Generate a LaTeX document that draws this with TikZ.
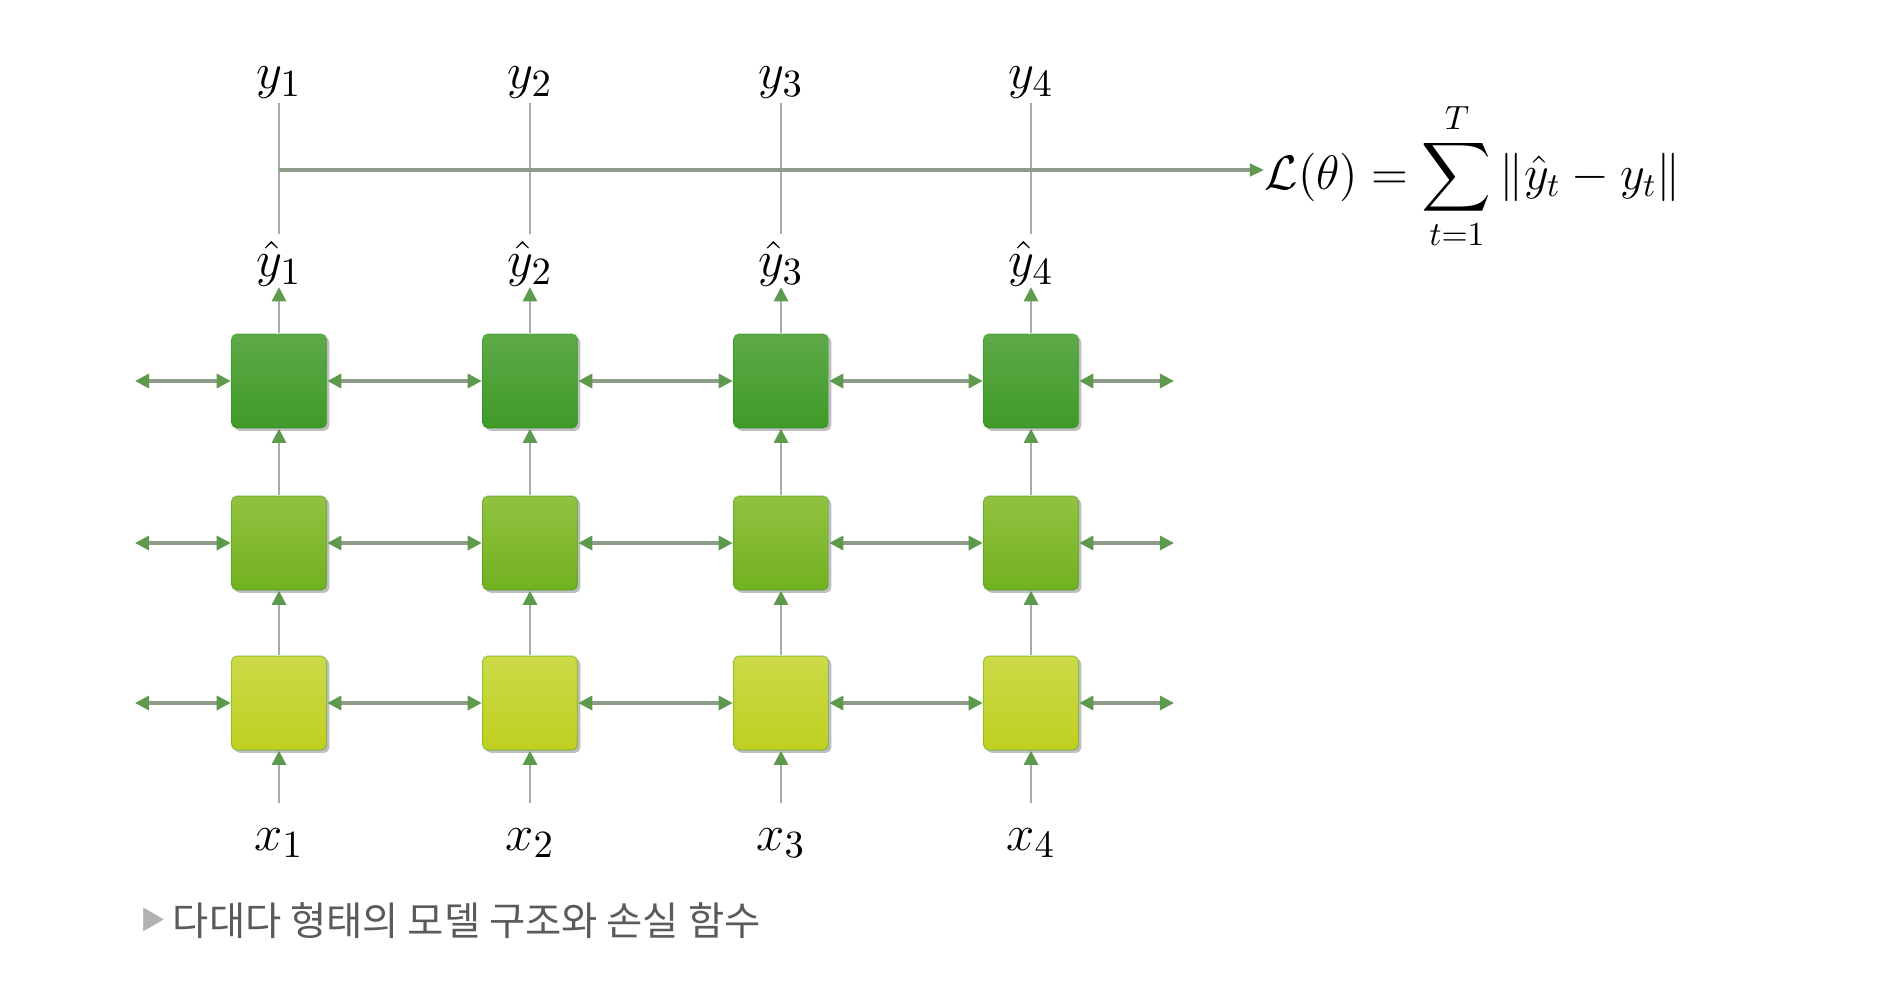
\documentclass[tikz,border=0pt]{standalone}
\usepackage{fontspec}
\usepackage{amsmath}
\newfontfamily\krfont{Noto Sans CJK KR}
\usetikzlibrary{arrows.meta,shadows}
\definecolor{tipgreen}{HTML}{5E9A4E}
\definecolor{hline}{HTML}{8E9C8A}
\definecolor{vline}{HTML}{A8ACA8}
\definecolor{capgray}{HTML}{5A5A5A}
\definecolor{green1a}{HTML}{5EAA48}
\definecolor{green1b}{HTML}{3F9A28}
\definecolor{green2a}{HTML}{92C240}
\definecolor{green2b}{HTML}{72B120}
\definecolor{green3a}{HTML}{CCDA48}
\definecolor{green3b}{HTML}{C0D020}
\tikzset{
  cell/.style={minimum width=0.95cm,minimum height=0.94cm,inner sep=0pt,rounded corners=1.5pt,
    draw=#1,draw opacity=0.25,line width=0.4pt,
    drop shadow={shadow xshift=0.8pt,shadow yshift=-0.8pt,opacity=0.25,fill=black}},
  toprow/.style={cell=green!50!black,top color=green1a,bottom color=green1b},
  midrow/.style={cell=green!50!black,top color=green2a,bottom color=green2b},
  botrow/.style={cell=green!50!black,top color=green3a,bottom color=green3b},
  harr/.style={draw=hline,line width=0.9pt,{Triangle[length=4pt,width=4pt,color=tipgreen]}-{Triangle[length=4pt,width=4pt,color=tipgreen]}},
  varr/.style={draw=vline,line width=0.7pt,-{Triangle[length=4pt,width=4pt,color=tipgreen]}},
  vline/.style={draw=vline,line width=0.7pt},
  lossarr/.style={draw=hline,line width=0.9pt,-{Triangle[length=4pt,width=3.5pt,color=tipgreen]}},
  lbl/.style={inner sep=1pt,font=\fontsize{15}{18}\selectfont},
}
\begin{document}
\begin{tikzpicture}[x=0.01cm,y=-0.01cm]
\useasboundingbox (0,0) rectangle (1893,1000);
% boxes and labels
\foreach \c/\X in {1/279,2/530,3/781,4/1031}{
  \node[toprow] (b1\c) at (\X,381) {};
  \node[midrow] (b2\c) at (\X,543) {};
  \node[botrow] (b3\c) at (\X,703) {};
  \node[lbl] (x\c) at (\X,843) {$x_{\c}$};
  \node[lbl] (h\c) at (\X,264) {$\hat{y}_{\c}$};
  \node[lbl] (y\c) at (\X,83) {$y_{\c}$};
}
% horizontal arrows
\foreach \r/\Y in {1/381,2/543,3/703}{
  \coordinate (l\r) at (135,\Y);
  \coordinate (r\r) at (1174,\Y);
  \draw[harr] (l\r) -- (b\r1.west);
  \draw[harr] (b\r1.east) -- (b\r2.west);
  \draw[harr] (b\r2.east) -- (b\r3.west);
  \draw[harr] (b\r3.east) -- (b\r4.west);
  \draw[harr] (b\r4.east) -- (r\r);
}
% vertical arrows
\foreach \c in {1,2,3,4}{
  \draw[varr] ([yshift=6pt]x\c.north) -- (b3\c.south);
  \draw[varr] (b3\c.north) -- (b2\c.south);
  \draw[varr] (b2\c.north) -- (b1\c.south);
  \draw[varr] (b1\c.north) -- ([yshift=1pt]h\c.south);
  \draw[vline] ([yshift=1pt]h\c.north) -- (y\c.south);
}
% loss
\node[anchor=west,inner sep=0pt,font=\fontsize{14.4}{17}\selectfont] (loss) at (1264,176)
  {\scalebox{0.955}{$\displaystyle \mathcal{L}(\theta)=\sum_{t=1}^{T}\|\hat{y}_t-y_t\|$}};
\coordinate (h0) at (279,170);
\draw[lossarr] (h0) -- (loss.west |- h0);
% caption
\node[anchor=west,inner sep=0pt,font=\krfont\fontsize{11.2}{13}\selectfont,text=capgray] (cap) at (140,921)
  {\textcolor{gray!60}{\raisebox{0.15em}{\scalebox{0.65}{▶}}}\,다대다 형태의 모델 구조와 손실 함수};
\end{tikzpicture}
\end{document}
